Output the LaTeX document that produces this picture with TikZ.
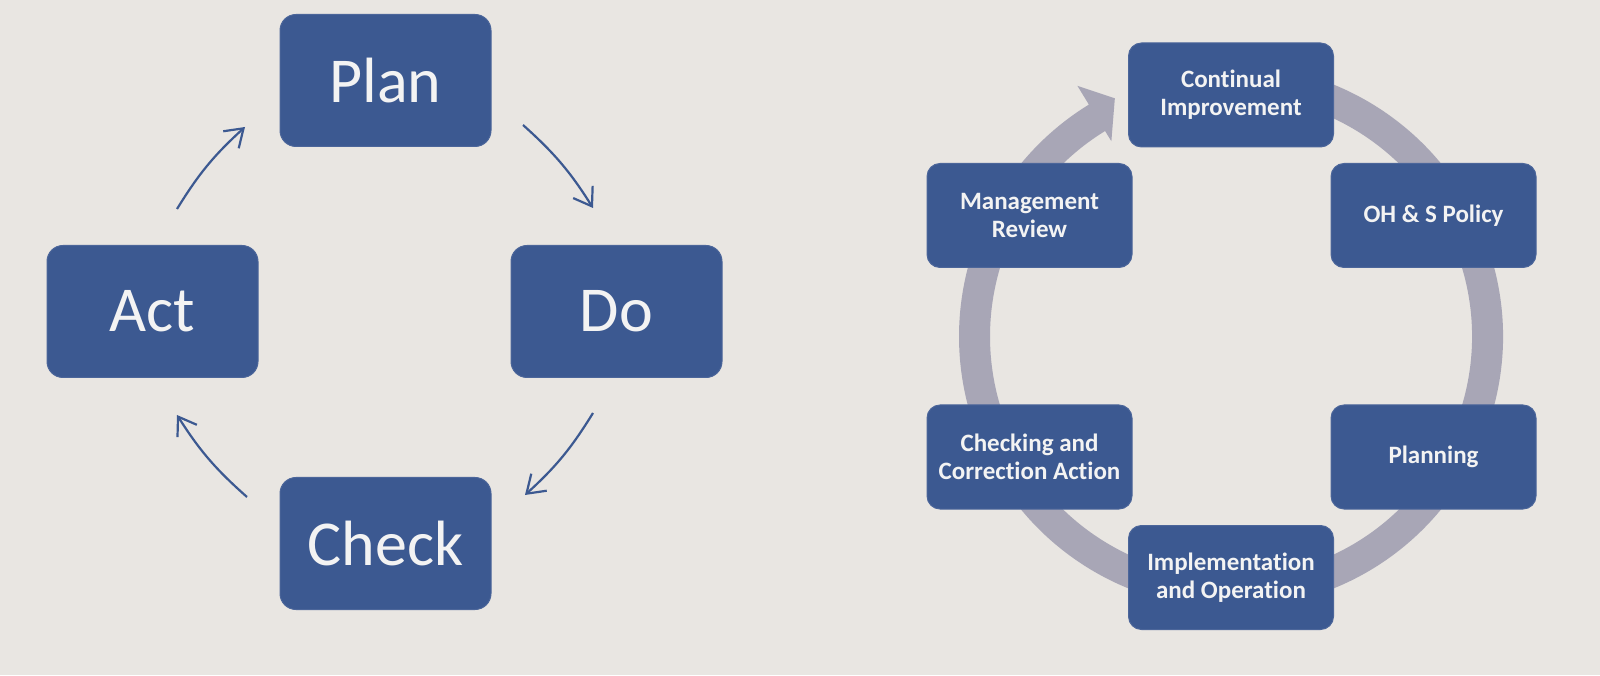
\documentclass[tikz,border=0pt]{standalone}
\usepackage{fontspec}
\setmainfont{Carlito}[Ligatures=NoCommon]
\usetikzlibrary{positioning}
\usetikzlibrary{arrows.meta}
\definecolor{boxblue}{RGB}{60,89,145}
\definecolor{ringgray}{RGB}{168,166,182}
\definecolor{paper}{RGB}{233,230,226}
\definecolor{boxtext}{RGB}{243,243,243}
\tikzset{
  pdca/.style={draw=boxblue!92!white, line width=1pt, fill=boxblue, rounded corners=16pt,
    minimum width=211pt, minimum height=132pt, inner sep=0pt, text=boxtext,
    font=\fontsize{64}{70}\selectfont},
  ohsas/.style={draw=boxblue!92!white, line width=1pt, fill=boxblue, rounded corners=13pt,
    minimum width=205pt, minimum height=104pt, inner sep=0pt, text=boxtext, align=center,
    font=\bfseries\fontsize{25}{28}\selectfont},
  cyc/.style={->, >={Straight Barb[length=17pt,width=23pt]}, boxblue, line width=2.2pt},
}
\begin{document}
\begin{tikzpicture}[x=1pt,y=1pt,on grid]
		\fill[paper] (0,0) rectangle (1600,675);
		\node (plan) [pdca] at (385.5,594.5) {Plan};
		\node (act) [pdca, below left=231pt and 233pt of plan] {Act};
		\node (do) [pdca, below right=231pt and 231pt of plan] {Do};
		\node (check) [pdca, below=463pt of plan] {Check};
		\coordinate (act1) at (177,466);
		\coordinate (plan1) at (245,548);
		\coordinate (plan2) at (523,550);
		\coordinate (do1) at (593,467);
		\coordinate (do2) at (593,262);
		\coordinate (check1) at (525,180);
		\coordinate (check2) at (247,178);
		\coordinate (act2) at (177,260);
		\draw[cyc] (act1) to[bend left=8] (plan1);
		\draw[cyc] (plan2) to[bend left=8] (do1);
		\draw[cyc] (do2) to[bend left=8] (check1);
		\draw[cyc] (check2) to[bend left=8] (act2);
		\coordinate (hub) at (1231,338.5);
		\draw[ringgray, line width=31pt] ([shift={(hub)}]110:256.5) arc[start angle=110, end angle=-215, radius=256.5];
		\fill[ringgray] ([shift={(hub)}]145:272) arc[start angle=145, end angle=121.5, radius=272]
			-- ([shift={(hub)}]121.5:294) -- ([shift={(hub)}]116:265) -- ([shift={(hub)}]121.5:229)
			-- ([shift={(hub)}]121.5:241) arc[start angle=121.5, end angle=145, radius=241] -- cycle;
		\node (ci) [ohsas] at (1231,580) {Continual\\Improvement};
		\node (mr) [ohsas, below left=120.5pt and 201.5pt of ci] {Management\\Review};
		\node (ohs) [ohsas, below right=120.5pt and 202.5pt of ci] {OH \& S Policy};
		\node (cca) [ohsas, below=241.5pt of mr] {Checking and\\Correction Action};
		\node (pl) [ohsas, below=241.5pt of ohs] {Planning};
		\node (io) [ohsas, below=482.5pt of ci] {Implementation\\and Operation};
\end{tikzpicture}
\end{document}
